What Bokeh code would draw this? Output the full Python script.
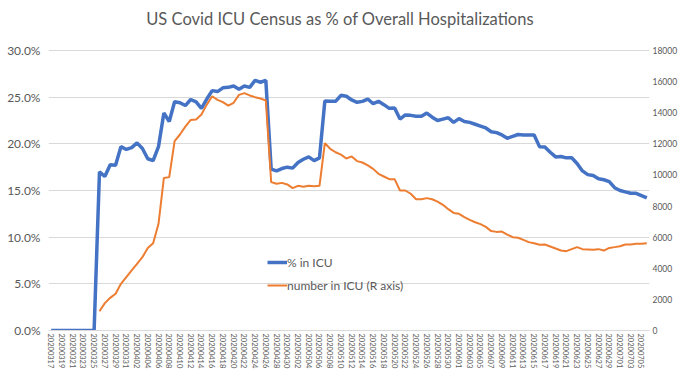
import numpy as np
import pandas as pd
from bokeh.plotting import figure
from bokeh.models import (Range1d, LinearAxis, FixedTicker, NumeralTickFormatter,
                          Legend, LegendItem, ColumnDataSource, Label)
from bokeh.embed import file_html
from bokeh.resources import INLINE

# ---- data ----
dates = [d.strftime("%Y%m%d") for d in pd.date_range("2020-03-17", "2020-07-06", freq="D")]

pct_in_icu = [
    0, 0, 0, 0, 0, 0, 0, 0, 0,
    17.0, 16.5, 17.75, 17.7, 19.7, 19.4,
    19.6, 20.1, 19.5, 18.4, 18.2, 19.7, 23.3, 22.4, 24.5, 24.4,
    24.1, 24.75, 24.5, 23.8, 24.8, 25.7, 25.6, 26.0, 26.05, 26.2,
    25.85, 26.2, 26.05, 26.8, 26.6, 26.8, 17.3, 17.1, 17.35, 17.5,
    17.4, 18.0, 18.35, 18.6, 18.2, 18.5, 24.6, 24.55, 24.55, 25.2,
    25.1, 24.7, 24.45, 24.55, 24.8, 24.3, 24.55, 24.2, 23.8, 23.85,
    22.65, 23.1, 23.05, 22.95, 22.95, 23.3, 22.85, 22.5, 22.65, 22.8, 22.3,
    22.7, 22.4, 22.3, 22.1, 21.9, 21.7, 21.3, 21.2, 20.95, 20.6,
    20.8, 21.0, 20.95, 20.95, 20.95, 19.7, 19.65, 19.1, 18.6, 18.65,
    18.5, 18.5, 17.9, 17.1, 16.7, 16.6, 16.25, 16.15, 15.95, 15.3,
    15.0, 14.85, 14.7, 14.7, 14.45, 14.2,
]

number_in_icu = [
    None, None, None, None, None, None, None, None, None,
    1240, 1760, 2100, 2360, 3000, 3430,
    3860, 4290, 4710, 5300, 5610, 6860, 9810, 9860, 12170, 12600,
    13110, 13540, 13560, 13880, 14520, 15060, 14830, 14680, 14460, 14640,
    15150, 15260, 15110, 15000, 14910, 14790, 9540, 9430, 9490, 9390,
    9150, 9300, 9240, 9300, 9280, 9300, 12040, 11680, 11460, 11310,
    11060, 11190, 10890, 10800, 10610, 10390, 10070, 9900, 9730, 9730,
    9000, 9000, 8790, 8440, 8440, 8510, 8440, 8290, 8080, 7800, 7560,
    7500, 7290, 7110, 6960, 6840, 6660, 6390, 6340, 6360, 6170,
    6000, 5960, 5830, 5680, 5610, 5510, 5530, 5400, 5270, 5140,
    5100, 5230, 5360, 5230, 5210, 5190, 5230, 5140, 5310, 5360,
    5420, 5530, 5530, 5570, 5570, 5610,
]

left_ticks = [0, 0.05, 0.10, 0.15, 0.20, 0.25, 0.30]
right_ticks = [0, 2000, 4000, 6000, 8000, 10000, 12000, 14000, 16000, 18000]
title_text = "US Covid ICU Census as % of Overall Hospitalizations"

# ---- layout (pixels) ----
W, H = 680, 378
FRAME_L, FRAME_R, FRAME_B = 48, 652, 330     # frame extends to the top of the canvas
AXIS_TOP_PX = 50                              # where 30% / 18000 sits
TITLE_X_PX, TITLE_Y_PX = 341, 18

n = len(dates)
span_px = FRAME_B - AXIS_TOP_PX
scale_top = FRAME_B / span_px                 # stretch so the top 50px hold the title
left_max = left_ticks[-1] * scale_top
right_max = right_ticks[-1] * scale_top

src = ColumnDataSource(dict(
    x=np.arange(n),
    pct=np.array(pct_in_icu, dtype=float) / 100.0,
    num=np.array([np.nan if v is None else v for v in number_in_icu], dtype=float),
))

GREY = "#595959"
FONT = "Lato"

p = figure(width=W, height=H, output_backend="svg", toolbar_location=None,
           x_range=Range1d(-0.5, n - 0.5), y_range=Range1d(0, left_max),
           min_border_left=FRAME_L, min_border_right=W - FRAME_R,
           min_border_top=0, min_border_bottom=H - FRAME_B)
p.extra_y_ranges = {"right": Range1d(0, right_max)}

p.outline_line_color = None
p.background_fill_color = "white"
p.border_fill_color = "white"

# title placed inside the (stretched) frame, converted from pixel position to data units
tx = -0.5 + (TITLE_X_PX - FRAME_L) / (FRAME_R - FRAME_L) * n
ty = (FRAME_B - TITLE_Y_PX) / FRAME_B * left_max
p.add_layout(Label(x=tx, y=ty, text=title_text,
                   text_align="center", text_baseline="middle",
                   text_font=FONT, text_font_size="16.5px", text_color=GREY))

p.xgrid.grid_line_color = None
p.ygrid.grid_line_color = "#D9D9D9"
p.ygrid.grid_line_width = 1
p.ygrid.ticker = FixedTicker(ticks=left_ticks)

# x axis
xa = p.xaxis[0]
xa.ticker = FixedTicker(ticks=list(range(0, n, 2)))
xa.major_label_overrides = {int(i): dates[i] for i in range(0, n, 2)}
xa.major_label_orientation = "vertical"
xa.major_label_text_font = FONT
xa.major_label_text_font_size = "7.5px"
xa.major_label_text_color = GREY
xa.axis_line_color = "#D9D9D9"
xa.major_tick_line_color = None
xa.minor_tick_line_color = None
xa.major_tick_out = 0
xa.major_tick_in = 0
xa.major_label_standoff = 3

# left axis
ya = p.yaxis[0]
ya.ticker = FixedTicker(ticks=left_ticks)
ya.formatter = NumeralTickFormatter(format="0.0%")
ya.major_label_text_font = FONT
ya.major_label_text_font_size = "12px"
ya.major_label_text_color = GREY
ya.axis_line_color = None
ya.major_tick_line_color = None
ya.minor_tick_line_color = None
ya.major_tick_out = 0
ya.major_tick_in = 0
ya.major_label_standoff = 8

# right axis
ra = LinearAxis(y_range_name="right", ticker=FixedTicker(ticks=right_ticks))
ra.major_label_text_font = FONT
ra.major_label_text_font_size = "8.5px"
ra.major_label_text_color = GREY
ra.axis_line_color = None
ra.major_tick_line_color = None
ra.minor_tick_line_color = None
ra.major_tick_out = 0
ra.major_tick_in = 0
ra.major_label_standoff = 3
p.add_layout(ra, "right")

r1 = p.line("x", "pct", source=src, line_color="#4472C4", line_width=3.5)
r2 = p.line("x", "num", source=src, y_range_name="right", line_color="#ED7D31", line_width=2)

legend = Legend(items=[LegendItem(label="% in ICU", renderers=[r1]),
                       LegendItem(label="number in ICU (R axis)", renderers=[r2])],
                location=(219, 35), orientation="vertical")
legend.label_text_font = FONT
legend.label_text_font_size = "12px"
legend.label_text_color = GREY
legend.glyph_width = 20
legend.glyph_height = 20
legend.label_standoff = 0
legend.spacing = 3
legend.padding = 0
legend.margin = 0
legend.border_line_alpha = 0
legend.background_fill_alpha = 0
p.add_layout(legend, "center")

open("out.html", "w").write(file_html(p, INLINE))
